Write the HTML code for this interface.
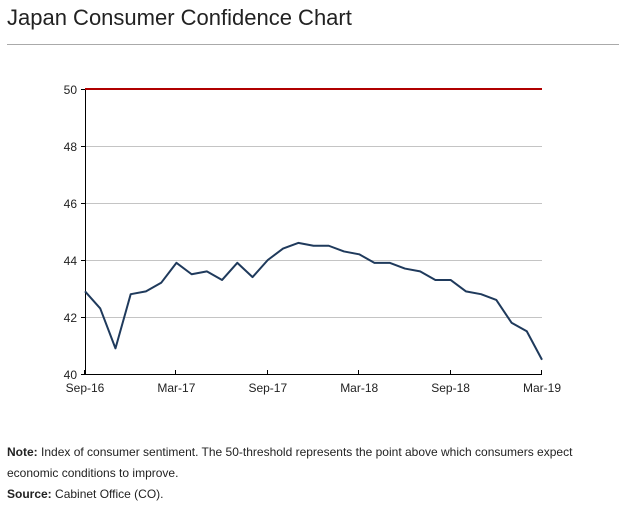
<!DOCTYPE html>
<html><head><meta charset="utf-8"><style>
body{margin:0;background:#fff;width:627px;height:505px;overflow:hidden;font-family:"Liberation Sans",Arial,sans-serif;}
#title{position:absolute;left:7px;top:5px;font-size:22px;color:#222;}
#rule{position:absolute;left:7px;top:44px;width:612px;height:1px;background:#aaa;}
.note{position:absolute;left:7px;font-size:12px;color:#222;line-height:21px;}
</style></head><body>
<div id="title">Japan Consumer Confidence Chart</div>
<div id="rule"></div>
<svg id="chart" width="627" height="430" style="position:absolute;left:0;top:0"></svg>
<div class="note" style="top:442px"><b>Note:</b> Index of consumer sentiment. The 50-threshold represents the point above which consumers expect<br>economic conditions to improve.</div>
<div class="note" style="top:484px"><b>Source:</b> Cabinet Office (CO).</div>
<script>
const values=[42.9,42.3,40.9,42.8,42.9,43.2,43.9,43.5,43.6,43.3,43.9,43.4,44.0,44.4,44.6,44.5,44.5,44.3,44.2,43.9,43.9,43.7,43.6,43.3,43.3,42.9,42.8,42.6,41.8,41.5,40.5];
const yTicks=[40,42,44,46,48,50];
const xTickLabels=["Sep-16","Mar-17","Sep-17","Mar-18","Sep-18","Mar-19"];
const xTickIdx=[0,6,12,18,24,30];
const threshold=50;
const NS="http://www.w3.org/2000/svg",svg=document.getElementById('chart');
const x0=85,x1=542,y0=374,y1=89;
const xs=i=>x0+(x1-x0)*i/(values.length-1);
const ys=v=>y0-(v-40)/(50-40)*(y0-y1);
function mk(t,a){const e=document.createElementNS(NS,t);for(const k in a)e.setAttribute(k,a[k]);svg.appendChild(e);return e;}
yTicks.forEach(v=>{
 if(v!==40){const g=mk('line',{x1:x0,x2:x1,y1:ys(v)+0.5,y2:ys(v)+0.5,stroke:'#c4c4c4','stroke-width':1});
 
 }
 const tk=mk('line',{x1:x0-4,x2:x0,y1:ys(v)+0.5,y2:ys(v)+0.5,stroke:'#000'});
 
 
 const t=mk('text',{x:x0-8,y:ys(v)+5,'text-anchor':'end','font-size':12,fill:'#222'});t.textContent=v;
 
 
});
const ya=mk('line',{x1:x0+0.5,x2:x0+0.5,y1:y1,y2:y0,stroke:'#000'});


const xa=mk('line',{x1:x0,x2:x1,y1:y0+0.5,y2:y0+0.5,stroke:'#000'});


xTickIdx.forEach((i,k)=>{
 const tk=mk('line',{x1:Math.round(xs(i))-0.5,x2:Math.round(xs(i))-0.5,y1:y0-4,y2:y0,stroke:'#000'});
 
 
 const t=mk('text',{x:xs(i),y:y0+18,'text-anchor':'middle','font-size':12,fill:'#222'});t.textContent=xTickLabels[k];
 
 
});
const th=mk('line',{x1:x0,x2:x1,y1:ys(threshold),y2:ys(threshold),stroke:'#b00000','stroke-width':2});


const p=mk('polyline',{points:values.map((v,i)=>xs(i)+','+ys(v)).join(' '),fill:'none',stroke:'#1f3a5c','stroke-width':2,'stroke-linejoin':'round'});


</script>
</body></html>
